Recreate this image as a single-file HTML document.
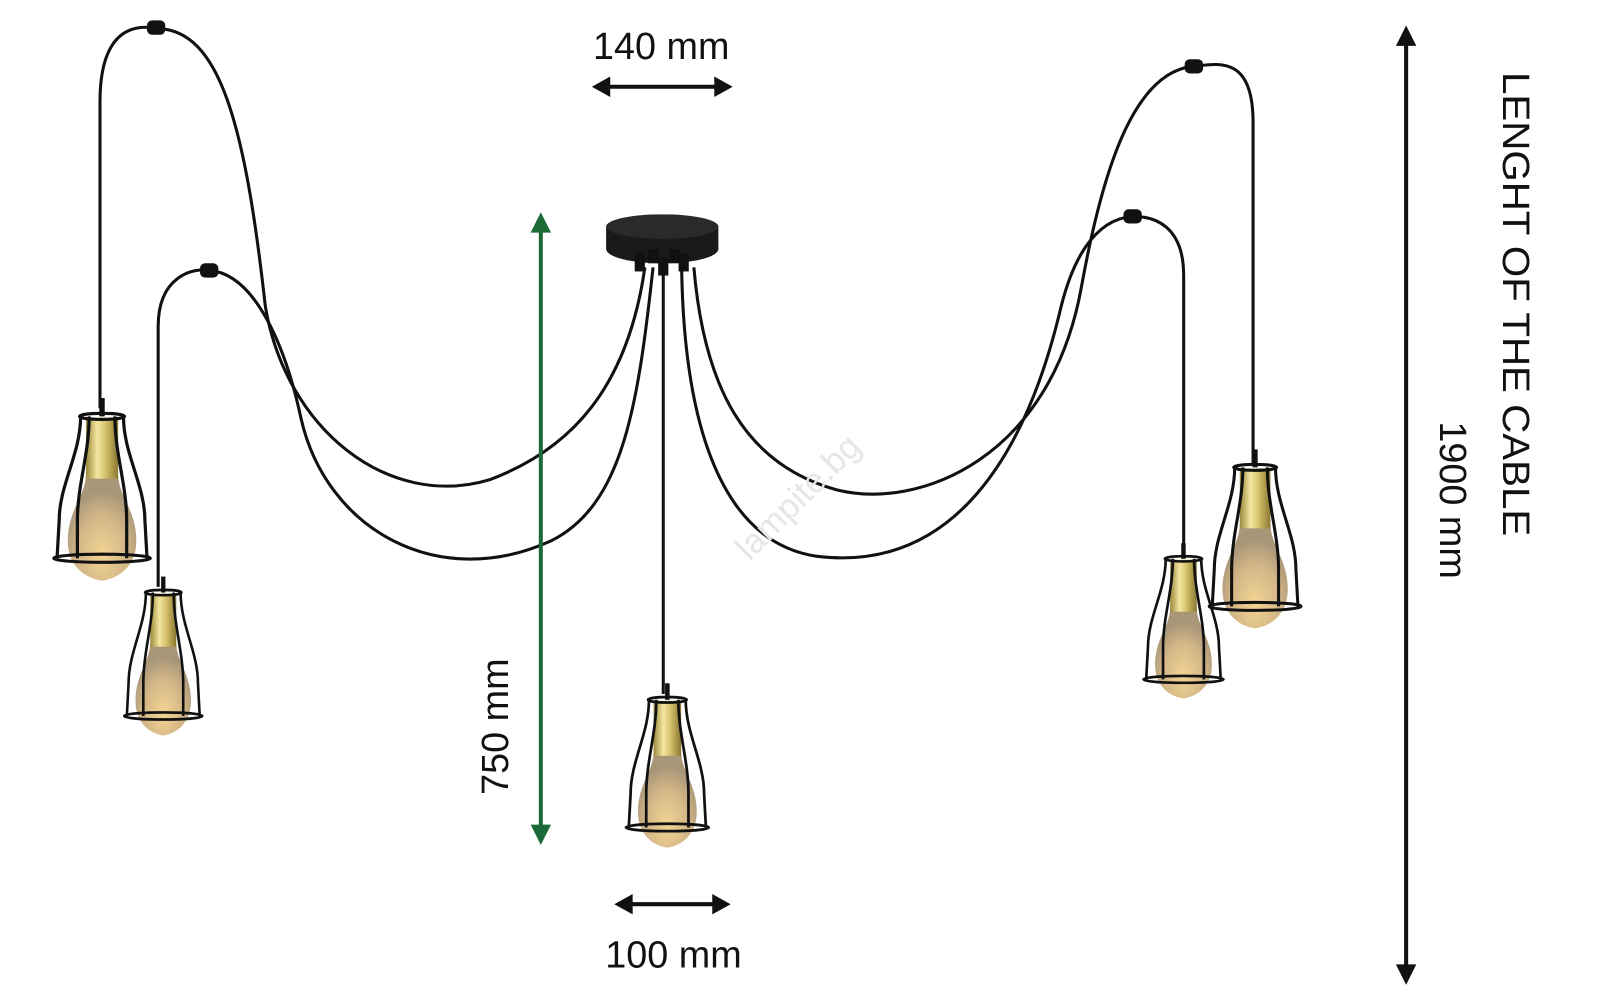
<!DOCTYPE html>
<html><head><meta charset="utf-8"><style>
html,body{margin:0;padding:0;background:#fff;width:1600px;height:993px;overflow:hidden}
svg{display:block}
text{font-family:"Liberation Sans",sans-serif}
</style></head><body>
<svg width="1600" height="993" viewBox="0 0 1568 973" preserveAspectRatio="none">
<defs>
<linearGradient id="brass" x1="0" x2="1">
<stop offset="0" stop-color="#9c8a3a"/><stop offset=".35" stop-color="#f3e6a0"/><stop offset=".6" stop-color="#d8c46e"/><stop offset="1" stop-color="#8a7730"/>
</linearGradient>
<radialGradient id="bulb" cx=".5" cy=".75" r=".6">
<stop offset="0" stop-color="#f0cf86"/><stop offset=".6" stop-color="#cfae7a"/><stop offset="1" stop-color="#9e8a6a"/>
</radialGradient>
<g id="lamp">
<path d="M25,60 C25,80 8,95 8,125 C8,150 25,162 40,164 C55,162 72,150 72,125 C72,95 55,80 55,60 Z" fill="url(#bulb)" opacity=".9"/>
<rect x="25" y="4" width="30" height="60" fill="url(#brass)"/>
<g fill="none" stroke="#111" stroke-width="3">
<ellipse cx="40" cy="3" rx="21" ry="3"/>
<path d="M20,3 C20,40 0,70 0,105 L-2,142"/>
<path d="M60,3 C60,40 80,70 80,105 L82,142"/>
<path d="M28,3 C28,40 17,70 17,105 L17,142"/>
<path d="M52,3 C52,40 63,70 63,105 L63,142"/>
<ellipse cx="40" cy="142" rx="45" ry="4"/>
</g>
<line x1="40" y1="-15" x2="40" y2="3" stroke="#111" stroke-width="5"/>
</g>
</defs>

<g fill="none" stroke="#111" stroke-width="3">
<path d="M98,400 L98,100 C98,20 140,25 155,28 C215,30 240,120 260,300 C280,420 380,500 480,470 C560,440 615,380 632,262"/>
<path d="M155,575 L155,320 C155,270 190,262 205,265 C250,268 280,340 295,410 C320,520 430,580 540,530 C610,495 625,400 640,262"/>
<path d="M650,262 L650,680"/>
<path d="M1228,455 L1228,120 C1228,55 1195,62 1170,65 C1110,70 1080,170 1060,280 C1030,450 900,500 820,480 C730,455 690,380 680,262"/>
<path d="M1160,545 L1160,270 C1160,220 1130,212 1110,212 C1070,215 1050,260 1040,300 C1000,470 920,560 800,545 C700,530 670,400 668,262"/>
</g>
<rect x="144" y="20" width="18" height="14" rx="5" fill="#111"/>
<rect x="196" y="258" width="18" height="14" rx="5" fill="#111"/>
<rect x="1161" y="58" width="18" height="14" rx="5" fill="#111"/>
<rect x="1101" y="205" width="18" height="14" rx="5" fill="#111"/>

<rect x="594" y="222" width="110" height="22" fill="#1a1a1a"/>
<ellipse cx="649" cy="244" rx="55" ry="14" fill="#1a1a1a"/>
<ellipse cx="649" cy="222" rx="55" ry="12" fill="#2a2a2a"/>
<rect x="622" y="248" width="10" height="18" fill="#111"/>
<rect x="645" y="252" width="10" height="18" fill="#111"/>
<rect x="665" y="248" width="10" height="18" fill="#111"/>
<rect x="635" y="244" width="10" height="14" fill="#111"/>
<rect x="656" y="244" width="10" height="14" fill="#111"/>

<use href="#lamp" transform="translate(58,405) scale(1.05,1.0)"/>
<use href="#lamp" transform="translate(126,578) scale(0.85,0.87)"/>
<use href="#lamp" transform="translate(618,683) scale(0.9,0.9)"/>
<use href="#lamp" transform="translate(1190,455) scale(1.0,0.98)"/>
<use href="#lamp" transform="translate(1125,545) scale(0.87,0.85)"/>

<text x="790" y="495" font-size="34" fill="#e6e6e6" text-anchor="middle" transform="rotate(-45 790 495)">lampite.bg</text>

<g stroke="#111" stroke-width="4" fill="#111">
<line x1="592" y1="85" x2="706" y2="85"/>
<path d="M580,85 L598,75 L598,95 Z" stroke="none"/><path d="M718,85 L700,75 L700,95 Z" stroke="none"/>
<line x1="614" y1="886" x2="704" y2="886"/>
<path d="M602,886 L620,876 L620,896 Z" stroke="none"/><path d="M716,886 L698,876 L698,896 Z" stroke="none"/>
<line x1="1378" y1="38" x2="1378" y2="952"/>
<path d="M1378,25 L1368,45 L1388,45 Z" stroke="none"/><path d="M1378,965 L1368,945 L1388,945 Z" stroke="none"/>
</g>
<g stroke="#1b6a38" stroke-width="4" fill="#1b6a38">
<line x1="530" y1="222" x2="530" y2="814"/>
<path d="M530,208 L520,228 L540,228 Z" stroke="none"/><path d="M530,828 L520,808 L540,808 Z" stroke="none"/>
</g>

<text x="648" y="58" font-size="37" text-anchor="middle" fill="#111">140 mm</text>
<text x="660" y="948" font-size="37" text-anchor="middle" fill="#111">100 mm</text>
<text x="0" y="0" font-size="37" text-anchor="middle" fill="#111" transform="translate(498,712) rotate(-90)">750 mm</text>
<text x="0" y="0" font-size="37" text-anchor="middle" fill="#111" transform="translate(1473,298) rotate(90)" textLength="455" lengthAdjust="spacingAndGlyphs">LENGHT OF THE CABLE</text>
<text x="0" y="0" font-size="37" text-anchor="middle" fill="#111" transform="translate(1411,490) rotate(90)">1900 mm</text>
</svg>
</body></html>
